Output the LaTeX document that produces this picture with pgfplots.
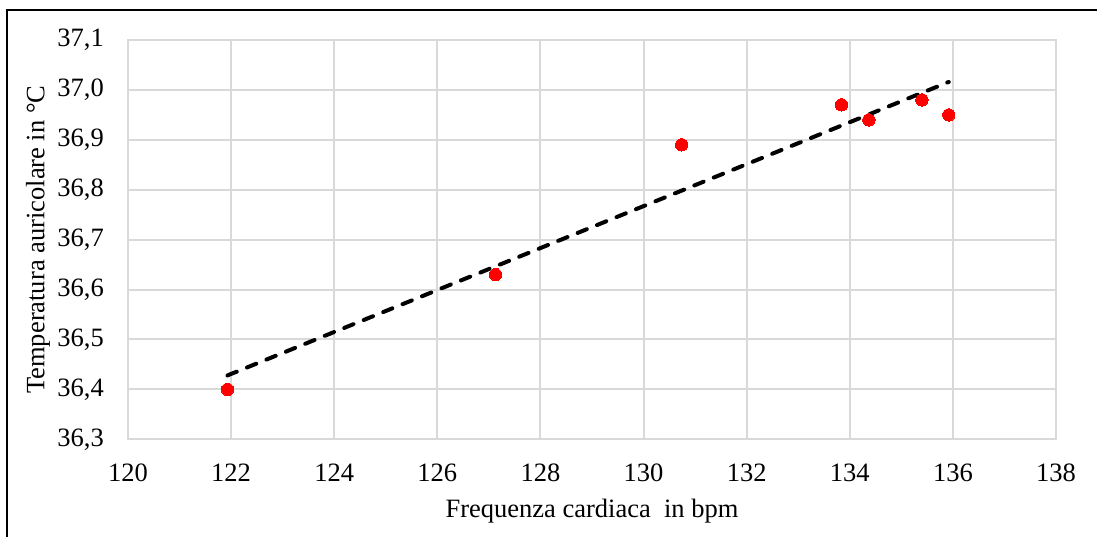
\documentclass[border=0pt]{standalone}
\usepackage{pgfplots}
\pgfplotsset{compat=1.18}
\usepackage{fontspec}
\setmainfont{Liberation Serif}
\definecolor{gridgray}{RGB}{217,217,217}
\newcommand{\chartfont}{\fontsize{26.5}{32}\selectfont}
\begin{document}
\chartfont
\begin{tikzpicture}[x=1pt,y=1pt]
\useasboundingbox (0,0) rectangle (1097,537);
\draw[line width=2pt,black] (7,-5) -- (7,527) -- (1105,527);
\begin{axis}[
  at={(128pt,97.7pt)}, anchor=south west,
  scale only axis, width=928pt, height=399.3pt,
  xmin=120, xmax=138, ymin=36.3, ymax=37.1,
  xtick={120,122,...,138},
  ytick={36.3,36.4,36.5,36.6,36.7,36.8,36.9,37.0,37.1},
  major tick length=0pt,
  grid=major,
  major grid style={draw=gridgray, line width=2pt},
  axis line style={draw=gridgray, line width=2pt},
  /pgf/number format/assume math mode=true,
  x tick label style={/pgf/number format/1000 sep={}, font=\chartfont, anchor=base, inner sep=0pt, yshift=-42pt},
  y tick label style={/pgf/number format/.cd, use comma, fixed, fixed zerofill, precision=1, /tikz/.cd, font=\chartfont, anchor=east, inner sep=0pt, xshift=-24pt},
  xlabel={Frequenza cardiaca\ \ in bpm},
  ylabel={Temperatura auricolare in °C},
  xlabel style={at={(axis description cs:0.5,-0.195)}, anchor=base, inner sep=0pt, font=\chartfont},
  ylabel style={at={(axis description cs:-0.097,0.5)}, anchor=center, rotate=0, inner sep=0pt, font=\chartfont},
  clip=false,
]
\addplot[black, line width=4pt, line cap=round, dash pattern=on 10pt off 11pt] coordinates {(121.93,36.428) (135.92,37.016)};
\addplot[only marks, color=red, mark=*, mark size=6.2pt, mark options={draw=red, fill=red, line width=0pt}] coordinates {
(121.93,36.40) (127.13,36.63) (130.74,36.89) (133.84,36.97) (134.37,36.94) (135.40,36.98) (135.92,36.95)};
\end{axis}
\end{tikzpicture}
\end{document}
